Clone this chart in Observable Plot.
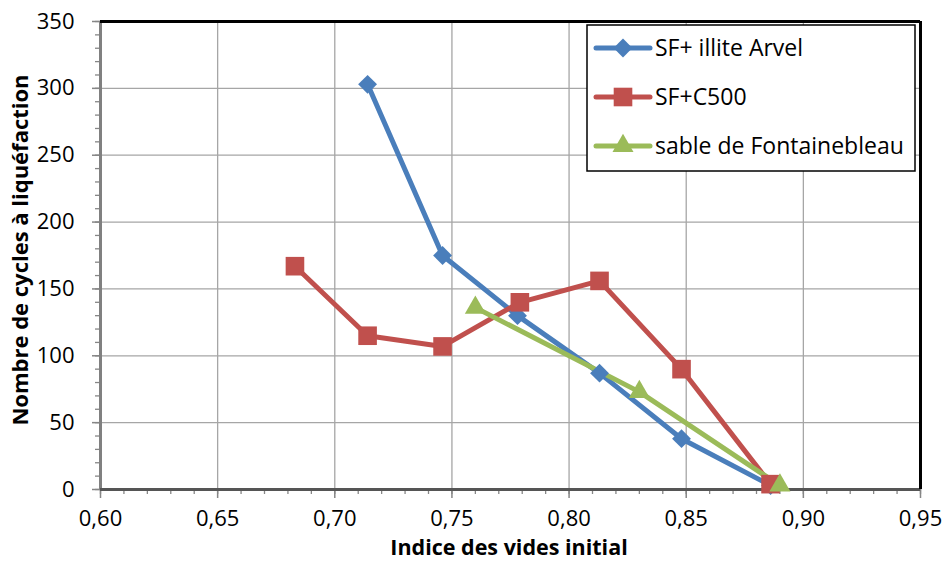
<!DOCTYPE html>
<html>
<head>
<meta charset="utf-8">
<script src="https://cdn.jsdelivr.net/npm/d3@7"></script>
<script src="https://cdn.jsdelivr.net/npm/@observablehq/plot@0.6"></script>
<style>
  html, body { margin: 0; padding: 0; background: #fff; }
  #chart { position: relative; width: 948px; height: 562px; }
</style>
</head>
<body>
<div id="chart"></div>
<script>
// ---- data ----
const seriesNames = ["SF+ illite Arvel", "SF+C500", "sable de Fontainebleau"];
const seriesColors = ["#4A7EBB", "#C0504D", "#9BBB59"];
const seriesSymbols = ["diamond2", "square", "triangle"];
const seriesRadii = [8.5, 10.5, 7.8];

const arvelX = [0.714, 0.746, 0.778, 0.813, 0.848, 0.886];
const arvelY = [303, 175, 130, 87, 38, 3];

const c500X = [0.683, 0.714, 0.746, 0.779, 0.813, 0.848, 0.886];
const c500Y = [167, 115, 107, 140, 156, 90, 4];

const fontX = [0.760, 0.830, 0.890];
const fontY = [136, 73, 3];

const xTicks = [0.60, 0.65, 0.70, 0.75, 0.80, 0.85, 0.90, 0.95];
const yTicks = [0, 50, 100, 150, 200, 250, 300, 350];
const xMinorTicks = d3.range(0.60, 0.9501, 0.01).map(v => +v.toFixed(2));
const yMinorTicks = d3.range(0, 351, 10);

const xLabel = "Indice des vides initial";
const yLabel = "Nombre de cycles à liquéfaction";

// ---- build table ----
const toRows = (xs, ys, s) => xs.map((x, i) => ({x, y: ys[i], s}));
const seriesRows = [
  toRows(arvelX, arvelY, seriesNames[0]),
  toRows(c500X, c500Y, seriesNames[1]),
  toRows(fontX, fontY, seriesNames[2])
];

const fmt = d => d.toFixed(2).replace(".", ",");
const FONT = "'Open Sans', Lato, sans-serif";

const plot = Plot.plot({
  width: 948,
  height: 562,
  marginLeft: 100,
  marginRight: 28,
  marginTop: 21,
  marginBottom: 73,
  style: {fontFamily: FONT, fontSize: "22px", color: "#000", background: "#fff"},
  x: {domain: [0.6, 0.95]},
  y: {domain: [0, 350]},
  marks: [
    Plot.ruleX(xTicks.slice(1, -1), {stroke: "#a6a6a6", strokeWidth: 1.3}),
    Plot.ruleY(yTicks.slice(1, -1), {stroke: "#a6a6a6", strokeWidth: 1.3}),
    Plot.axisX(xMinorTicks, {tickSize: 5, tickFormat: () => "", stroke: "#868686", strokeWidth: 1.3, label: null}),
    Plot.axisY(yMinorTicks, {tickSize: 5, tickFormat: () => "", stroke: "#868686", strokeWidth: 1.3, label: null}),
    Plot.axisX(xTicks, {tickSize: 9, tickPadding: 12, tickFormat: fmt, stroke: "#868686", strokeWidth: 1.5, label: null}),
    Plot.axisY(yTicks, {tickSize: 8, tickPadding: 18, tickFormat: d => String(d), stroke: "#868686", strokeWidth: 1.5, label: null}),
    Plot.ruleX([0.6], {stroke: "#808080", strokeWidth: 3}),
    Plot.ruleY([0], {stroke: "#555", strokeWidth: 3}),
    Plot.ruleY([350], {stroke: "#000", strokeWidth: 3}),
    Plot.ruleX([0.95], {stroke: "#000", strokeWidth: 3}),
    ...seriesRows.map((data, i) =>
      Plot.line(data, {x: "x", y: "y", stroke: seriesColors[i], strokeWidth: 5, strokeLinejoin: "round"})),
    ...seriesRows.map((data, i) =>
      Plot.dot(data, {x: "x", y: "y", symbol: seriesSymbols[i], fill: seriesColors[i], stroke: "none", r: seriesRadii[i]}))
  ]
});

document.getElementById("chart").appendChild(plot);

// ---- axis titles and legend ----
const svg = d3.select(plot);
svg.append("text")
  .attr("x", 509).attr("y", 555)
  .attr("text-anchor", "middle")
  .style("font-family", FONT).style("font-size", "21.5px").style("font-weight", "bold")
  .text(xLabel);
svg.append("text")
  .attr("transform", "translate(28,250) rotate(-90)")
  .attr("text-anchor", "middle")
  .style("font-family", FONT).style("font-size", "22px").style("font-weight", "bold")
  .text(yLabel);

const lg = svg.append("g");
lg.append("rect").attr("x", 587).attr("y", 25).attr("width", 328).attr("height", 146)
  .attr("fill", "#fff").attr("stroke", "#000").attr("stroke-width", 1.5);
const symMap = {diamond2: d3.symbolDiamond2, square: d3.symbolSquare, triangle: d3.symbolTriangle};
seriesNames.forEach((name, i) => {
  const cy = 48 + i * 49;
  lg.append("line").attr("x1", 596).attr("x2", 650).attr("y1", cy).attr("y2", cy)
    .attr("stroke", seriesColors[i]).attr("stroke-width", 5).attr("stroke-linecap", "round");
  const r = seriesRadii[i];
  lg.append("path").attr("transform", `translate(623,${cy})`)
    .attr("d", d3.symbol(symMap[seriesSymbols[i]], Math.PI * r * r)())
    .attr("fill", seriesColors[i]);
  lg.append("text").attr("x", 655).attr("y", cy).attr("dy", "0.35em")
    .attr("text-anchor", "start")
    .style("font-family", FONT).style("font-size", "23px")
    .text(name);
});
</script>
</body>
</html>
